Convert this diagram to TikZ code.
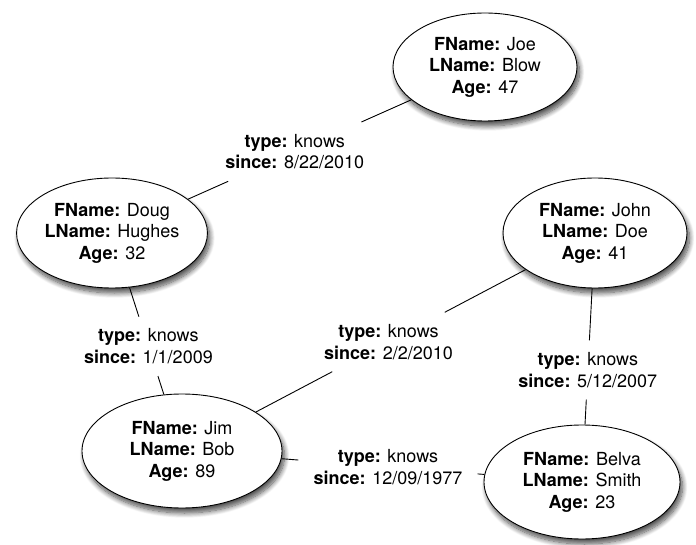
\documentclass[tikz,border=0pt]{standalone}
\usepackage{fontspec}
\setmainfont{TeX Gyre Heros}
\usetikzlibrary{shapes.geometric,shadows.blur,calc}

\tikzset{
  person/.style={ellipse, draw=black, line width=0.9pt, fill=white,
    align=center, inner sep=0pt,
    font=\fontsize{18}{21.5}\selectfont,
    blur shadow={shadow xshift=2.5pt, shadow yshift=-5pt,
      shadow blur radius=5pt, shadow blur steps=10, shadow opacity=70}},
  rel/.style={align=center, inner xsep=15pt, inner ysep=12pt,
    font=\fontsize{18}{21.5}\selectfont},
  link/.style={line width=0.9pt}
}

\begin{document}
\begin{tikzpicture}[x=1pt,y=-1pt]
\useasboundingbox (0,0) rectangle (696,545);

% people
\node[person, minimum width=184pt, minimum height=108pt] (joe) at (485,67)
  {\textbf{FName:} Joe\\ \textbf{LName:} Blow\\ \textbf{Age:} 47};
\node[person, minimum width=190pt, minimum height=110pt] (doug) at (112,233)
  {\textbf{FName:} Doug\\ \textbf{LName:} Hughes\\ \textbf{Age:} 32};
\node[person, minimum width=184pt, minimum height=110pt] (john) at (595,233)
  {\textbf{FName:} John\\ \textbf{LName:} Doe\\ \textbf{Age:} 41};
\node[person, minimum width=200pt, minimum height=114pt] (jim) at (182,451)
  {\textbf{FName:} Jim\\ \textbf{LName:} Bob\\ \textbf{Age:} 89};
\node[person, minimum width=196pt, minimum height=114pt] (belva) at (582,482)
  {\textbf{FName:} Belva\\ \textbf{LName:} Smith\\ \textbf{Age:} 23};

% relationship labels, centred on the lines between the people
\node[rel] (l1) at ($(doug)!0.49!(joe)$)
  {\textbf{type:} knows\\ \textbf{since:} 8/22/2010};
\node[rel] (l2) at ($(doug)!0.52!(jim)$)
  {\textbf{type:} knows\\ \textbf{since:} 1/1/2009};
\node[rel] (l3) at ($(jim)!0.50!(john)$)
  {\textbf{type:} knows\\ \textbf{since:} 2/2/2010};
\node[rel] (l4) at ($(john)!0.55!(belva)$)
  {\textbf{type:} knows\\ \textbf{since:} 5/12/2007};
\node[rel] (l5) at ($(jim)!0.515!(belva)$)
  {\textbf{type:} knows\\ \textbf{since:} 12/09/1977};

% connectors
\draw[link] (doug) -- (l1) -- (joe);
\draw[link] (doug) -- (l2) -- (jim);
\draw[link] (jim) -- (l3) -- (john);
\draw[link] (john) -- (l4) -- (belva);
\draw[link] (jim) -- (l5) -- (belva);
\end{tikzpicture}
\end{document}
